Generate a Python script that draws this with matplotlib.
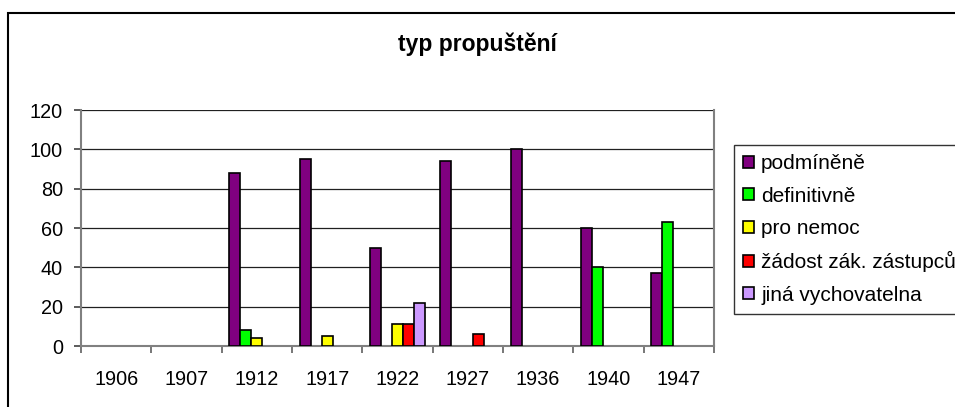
import numpy as np
import matplotlib
matplotlib.use("Agg")
from matplotlib import pyplot as plt

years = ['1906', '1907', '1912', '1917', '1922', '1927', '1936', '1940', '1947']
podminene = [0, 0, 88, 95, 50, 94, 100, 60, 37]
definitivne = [0, 0, 8, 0, 0, 0, 0, 40, 63]
pro_nemoc = [0, 0, 4, 5, 11, 0, 0, 0, 0]
zadost = [0, 0, 0, 0, 11, 6, 0, 0, 0]
jina = [0, 0, 0, 0, 22, 0, 0, 0, 0]

series = [podminene, definitivne, pro_nemoc, zadost, jina]
labels = ['podmíněně', 'definitivně', 'pro nemoc', 'žádost zák. zástupců', 'jiná vychovatelna']
colors = ['#800080', '#00FF00', '#FFFF00', '#FF0000', '#CC99FF']

plt.rcParams['font.family'] = ['Liberation Sans', 'DejaVu Sans']

fig = plt.figure(figsize=(9.55, 4.07), dpi=100)
ax = fig.add_axes([81/955, 1-346/407, (714-81)/955, (346-110)/407])

x = np.arange(len(years))
w = 0.157
handles = []
for i, (vals, col, lab) in enumerate(zip(series, colors, labels)):
    vals = np.array(vals, dtype=float)
    m = vals > 0   # Excel does not draw zero bars
    ax.bar(x[m] + (i-2)*w, vals[m], width=w, color=col, edgecolor='black', linewidth=1.2, zorder=3)
    handles.append(plt.Rectangle((0, 0), 1, 1, facecolor=col, edgecolor='black', linewidth=1.2))

ax.set_xlim(-0.5, len(years)-0.5)
ax.set_ylim(0, 120)
ax.set_yticks(range(0, 121, 20))
ax.yaxis.grid(True, color='#202020', linewidth=0.9, zorder=0)
ax.set_xticks(x)
ax.set_xticklabels(years)
ax.set_xticks(np.arange(-0.5, len(years)), minor=True)
ax.tick_params(axis='x', which='major', length=0, pad=17, labelsize=14.3)
ax.tick_params(axis='x', which='minor', length=5, width=1.2, color='#606060')
ax.tick_params(axis='y', length=5, width=1.2, color='#404040', pad=8, labelsize=14.3)
for s in ['left', 'bottom', 'right']:
    ax.spines[s].set_color('#808080')
    ax.spines[s].set_linewidth(1.5)
ax.spines['top'].set_visible(False)

fig.text(0.5, 1-44/407, 'typ propuštění', ha='center', va='center', fontsize=16.5,
         fontweight='bold')

leg = fig.legend(handles, labels, loc='upper left', bbox_to_anchor=(734/955, 1-145/407),
                 fontsize=15, frameon=True, fancybox=False, handlelength=0.5, handleheight=0.5,
                 handletextpad=0.35, labelspacing=0.64, borderpad=0.45, borderaxespad=0)
leg.get_frame().set_edgecolor('black')
leg.get_frame().set_linewidth(1.0)

fig.patches.append(plt.Rectangle((8/955, -0.1), 2, 1-13/407+0.1, transform=fig.transFigure,
                                 fill=False, edgecolor='black', linewidth=1.5))

fig.savefig('out.png', dpi=100)
